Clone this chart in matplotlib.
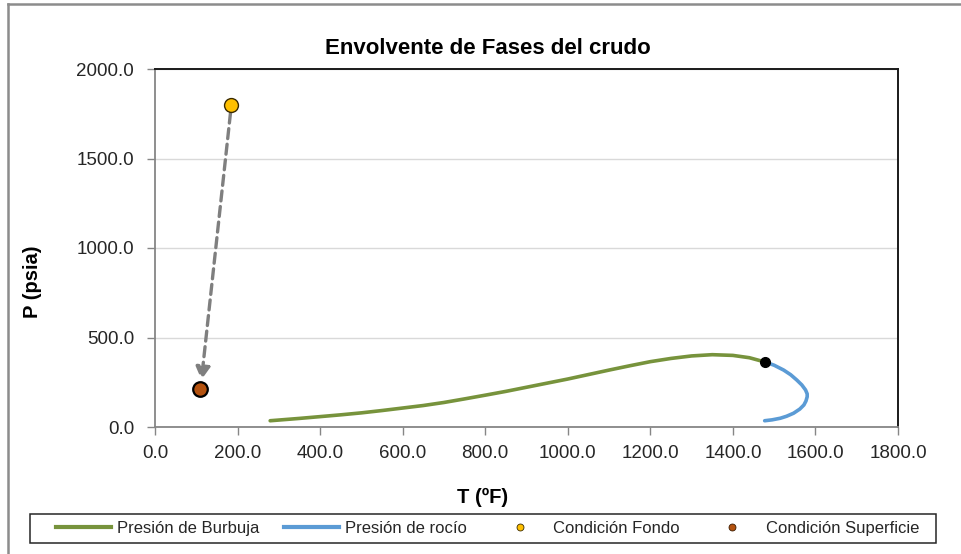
import matplotlib
matplotlib.use("Agg")
import matplotlib.pyplot as plt
from matplotlib.lines import Line2D
from matplotlib.patches import Rectangle

plt.rcParams['font.family'] = ['Liberation Sans', 'DejaVu Sans']

# Curva de burbuja (T en ºF, P en psia)
burbuja_T = [279, 350, 400, 450, 500, 550, 593, 650, 700, 750, 803, 850, 900,
             950, 1000, 1050, 1100, 1150, 1200, 1250, 1300, 1350, 1400, 1440, 1478]
burbuja_P = [35, 48, 58, 68, 79, 92, 104, 120, 137, 157, 179, 199, 222,
             245, 268, 293, 318, 342, 365, 383, 397, 404, 400, 387, 363]

# Curva de rocío
rocio_T = [1478, 1500, 1523, 1540, 1555, 1567, 1576, 1580, 1580, 1577, 1572,
           1562, 1547, 1530, 1515, 1495, 1477]
rocio_P = [363, 345, 318, 292, 262, 235, 207, 185, 169, 145, 123,
           100, 77, 60, 49, 40, 35]

# Punto crítico
critico_T = [1478]
critico_P = [363]

# Condiciones de fondo y de superficie
fondo_T, fondo_P = [185], [1800]
superficie_T, superficie_P = [110], [210]

x_ticks = [0, 200, 400, 600, 800, 1000, 1200, 1400, 1600, 1800]
y_ticks = [0, 500, 1000, 1500, 2000]

verde = '#77933C'
azul = '#5B9BD5'
naranja = '#FFC000'
marron = '#B4520F'
gris = '#868686'

W, H = 962, 554
fig = plt.figure(figsize=(W / 100, H / 100), dpi=100)
ax = fig.add_axes([155 / W, 1 - 427 / H, (898 - 155) / W, (427 - 69) / H])

ax.set_xlim(x_ticks[0], x_ticks[-1])
ax.set_ylim(y_ticks[0], y_ticks[-1])
ax.set_xticks(x_ticks)
ax.set_yticks(y_ticks)
ax.set_xticklabels([f"{v:.1f}" for v in x_ticks])
ax.set_yticklabels([f"{v:.1f}" for v in y_ticks])
ax.tick_params(axis='both', direction='out', length=6, width=1, color=gris,
               labelsize=13.5, labelcolor='#262626', pad=7)
ax.tick_params(axis='y', pad=9)

ax.yaxis.grid(True, color='#d9d9d9', lw=1)
ax.set_axisbelow(True)
for s in ('left', 'bottom'):
    ax.spines[s].set_color(gris)
    ax.spines[s].set_linewidth(1.3)
for s in ('top', 'right'):
    ax.spines[s].set_color('#1a1a1a')
    ax.spines[s].set_linewidth(1.4)

ax.plot(burbuja_T, burbuja_P, color=verde, lw=2.6, solid_capstyle='round',
        solid_joinstyle='round', label='Presión de Burbuja', zorder=3)
ax.plot(rocio_T, rocio_P, color=azul, lw=2.6, solid_capstyle='round',
        solid_joinstyle='round', label='Presión de rocío', zorder=3)
ax.plot(critico_T, critico_P, 'o', color='black', ms=7, zorder=5)

# Trayectoria de fondo a superficie
ax.annotate('', xy=(superficie_T[0], superficie_P[0]),
            xytext=(fondo_T[0], fondo_P[0]),
            arrowprops=dict(arrowstyle='-|>,head_length=0.75,head_width=0.42',
                            color='#7F7F7F', lw=2.4, linestyle=(0, (3, 1.7)),
                            shrinkA=6, shrinkB=7),
            zorder=4)

ax.plot(fondo_T, fondo_P, 'o', color=naranja, mec='#3a2a00', mew=1.0, ms=10,
        label='Condición Fondo', zorder=6)
ax.plot(superficie_T, superficie_P, 'o', color=marron, mec='black', mew=1.6,
        ms=10.5, label='Condición Superficie', zorder=6)

fig.text(488 / W, 1 - 48 / H, 'Envolvente de Fases del crudo', ha='center',
         va='center', fontsize=16, fontweight='bold', color='black')
fig.text(33 / W, 1 - 282 / H, 'P (psia)', ha='center', va='center',
         rotation=90, fontsize=14.5, fontweight='bold', color='black')
fig.text(483 / W, 1 - 497 / H, 'T (ºF)', ha='center', va='center',
         fontsize=14.5, fontweight='bold', color='black')

# Leyenda
handles = [
    Line2D([], [], color=verde, lw=3),
    Line2D([], [], color=azul, lw=3),
    Line2D([], [], marker='o', ls='none', color=naranja, mec='#3a2a00',
           mew=0.6, ms=5),
    Line2D([], [], marker='o', ls='none', color=marron, mec='#3a1a00',
           mew=0.6, ms=5),
]
labels = ['Presión de Burbuja', 'Presión de rocío', 'Condición Fondo',
          'Condición Superficie']
fig.patches.append(Rectangle((30 / W, 1 - 543 / H), (936 - 30) / W,
                             (543 - 514) / H, transform=fig.transFigure,
                             fill=False, ec='#262626', lw=1.1))
fig.legend(handles, labels, loc='center', bbox_to_anchor=(487.5 / W, 1 - 528.5 / H),
           ncol=4, frameon=False, fontsize=12, handlelength=3.3,
           handletextpad=0.36, columnspacing=1.5, borderpad=0.2,
           labelcolor='#262626')

# Marco exterior
fig.add_artist(Line2D([8 / W, 8 / W], [0, 1 - 4 / H], transform=fig.transFigure,
                      color='#8c8c8c', lw=1.8))
fig.add_artist(Line2D([8 / W, 1], [1 - 4 / H, 1 - 4 / H], transform=fig.transFigure,
                      color='#8c8c8c', lw=1.8))

fig.savefig('out.png', dpi=100, facecolor='white')
